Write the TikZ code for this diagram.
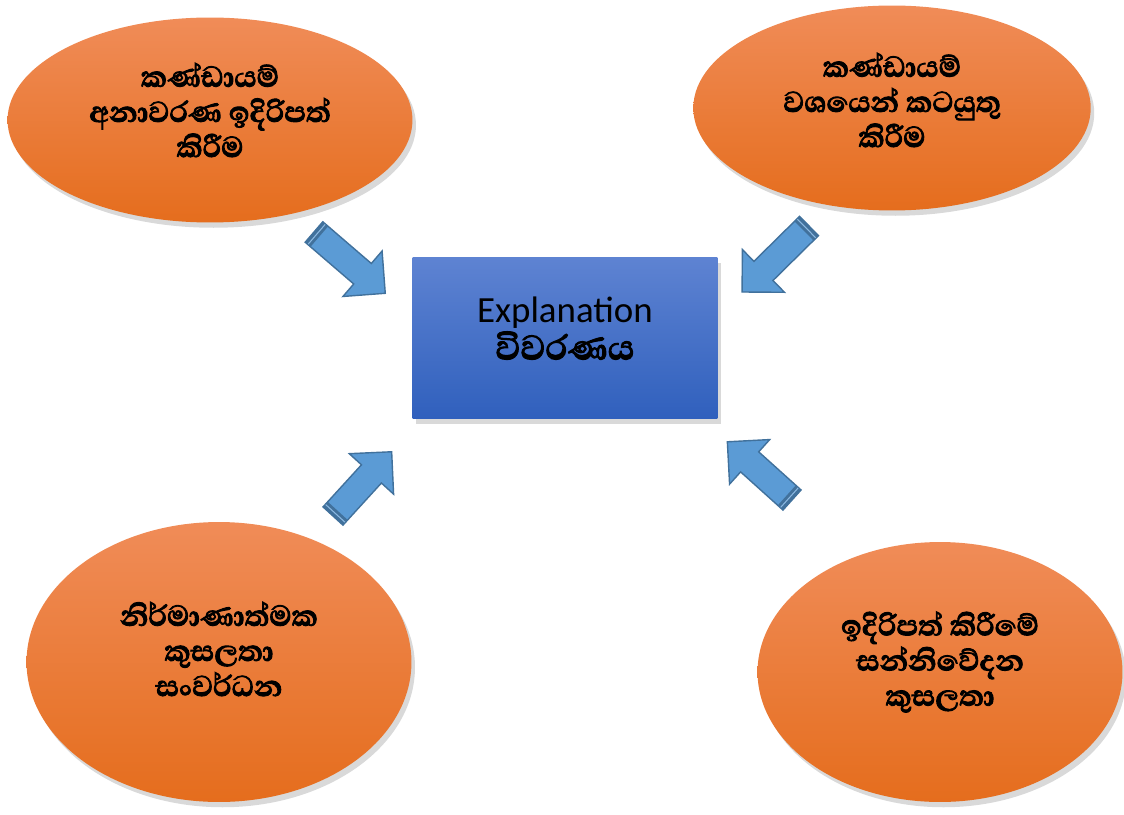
\documentclass[tikz,border=0pt]{standalone}
\usepackage{fontspec}
\setmainfont{Carlito}
\newfontfamily\sinhala[Script=Sinhala,BoldFeatures={FakeBold=2.5}]{Abhaya Libre}
\usetikzlibrary{shapes.geometric,shadows,positioning}
\definecolor{orangetop}{HTML}{F08C58}
\definecolor{orangemid}{HTML}{F27E2F}
\definecolor{orangebot}{HTML}{E56D1D}
\definecolor{boxtop}{HTML}{5E83D2}
\definecolor{boxbot}{HTML}{3060BD}
\definecolor{arrfill}{HTML}{5B9BD5}
\definecolor{arrline}{HTML}{41719C}
\tikzset{
    skillbub/.style={
        ellipse,
        inner sep=0pt,
        top color=orangetop,
        middle color=orangemid,
        bottom color=orangebot,
        drop shadow={opacity=0.3,shadow xshift=2pt,shadow yshift=-3pt}
    },
    skilltxt/.style={
        inner sep=0pt,
        align=center,
        font=\sinhala\bfseries\fontsize{21}{22}\selectfont
    },
    mainbox/.style={
        rectangle,
        inner sep=0pt,
        minimum width=6.1cm,
        minimum height=3.22cm,
        top color=boxtop,
        bottom color=boxbot,
        drop shadow={opacity=0.3,shadow xshift=2pt,shadow yshift=-3pt},
        align=center,
        font=\fontsize{21}{24}\selectfont
    },
    pics/blockarr/.style={
        code={
            \draw[fill=arrfill,draw=arrline,line width=0.8pt,line join=miter]
                (0,13.5) -- (#1-30,13.5) -- (#1-30,30) -- (#1,0)
                -- (#1-30,-30) -- (#1-30,-13.5) -- (0,-13.5) -- cycle;
            \fill[arrline] (0,-13.5) rectangle (7,13.5);
            \draw[arrfill!70!white,line width=0.6pt] (3.5,-13) -- (3.5,13);
        }
    }
}

\begin{document}
\begin{tikzpicture}[x=0.02cm,y=0.02cm]
    \useasboundingbox (0,0) rectangle (1124,-814);

    % centre box
    \node[mainbox] (expl) at (565,-338)
        {Explanation\\[-3pt]{\sinhala\bfseries\fontsize{25}{26}\selectfont විවරණය}\\[-13pt]\mbox{}};

    % the four skills
    \node[skillbub,minimum width=8.1cm,minimum height=4.1cm] (tl) at (210,-120) {};
    \node[skilltxt,yshift=0.2cm] (tl-txt) at (tl)
        {කණ්ඩායම්\\[-2pt]අනාවරණ ඉදිරිපත්\\[-2pt]කිරීම};
    \node[skillbub,minimum width=7.95cm,minimum height=4.1cm] (tr) at (892,-108) {};
    \node[skilltxt,yshift=0.16cm] (tr-txt) at (tr)
        {කණ්ඩායම්\\[-2pt]වශයෙන් කටයුතු\\[-2pt]කිරීම};
    \node[skillbub,minimum width=7.7cm,minimum height=5.6cm] (bl) at (219,-662) {};
    \node[skilltxt,yshift=0.26cm] (bl-txt) at (bl)
        {නිර්මාණාත්මක\\[-2pt]කුසලතා\\[-2pt]සංවර්ධන};
    \node[skillbub,minimum width=7.3cm,minimum height=5.2cm] (br) at (940,-672) {};
    \node[skilltxt,yshift=0.2cm] (br-txt) at (br)
        {ඉදිරිපත් කිරීමේ\\[-2pt]සන්නිවේදන\\[-2pt]කුසලතා};

    % block arrows towards the box
    \foreach \tx/\ty/\ang/\len in {314/232/-40.7/94, 809/226/224.6/94,
                                   333/516/47.6/87, 792/500/138/87}
    {
        \pic[rotate=\ang] at (\tx,-\ty) {blockarr=\len};
    }
\end{tikzpicture}
\end{document}
